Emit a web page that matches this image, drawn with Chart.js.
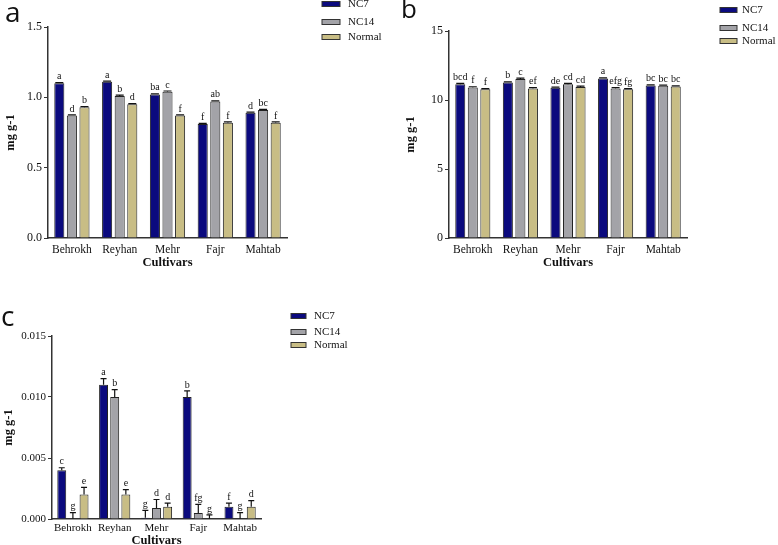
<!DOCTYPE html>
<html>
<head>
<meta charset="utf-8">
<script src="https://cdn.jsdelivr.net/npm/chart.js@4"></script>
<style>
  body { margin: 0; background: #fff; width: 778px; height: 545px; position: relative; overflow: hidden; }
  .panel { position: absolute; }
</style>
</head>
<body>
<div class="panel" style="left:0;top:0;width:390px;height:272px"><canvas id="chartA"></canvas></div>
<div class="panel" style="left:395px;top:0;width:383px;height:272px"><canvas id="chartB"></canvas></div>
<div class="panel" style="left:0;top:300px;width:390px;height:248px"><canvas id="chartC"></canvas></div>
<script>
const cultivars = ['Behrokh', 'Reyhan', 'Mehr', 'Fajr', 'Mahtab'];
const seriesNames = ['NC7', 'NC14', 'Normal'];
const colors = ['#0b0a7e', '#a3a3a8', '#c8bd85'];

// panel a
const aNC7 = [1.10, 1.11, 1.02, 0.81, 0.89];
const aNC14 = [0.87, 1.01, 1.04, 0.97, 0.91];
const aNormal = [0.93, 0.95, 0.87, 0.82, 0.82];
const aErrNC7 = [0.005, 0.005, 0.005, 0.005, 0.005];
const aErrNC14 = [0.005, 0.005, 0.005, 0.005, 0.005];
const aErrNormal = [0.005, 0.005, 0.005, 0.005, 0.005];
const aSigNC7 = ['a', 'a', 'ba', 'f', 'd'];
const aSigNC14 = ['d', 'b', 'c', 'ab', 'bc'];
const aSigNormal = ['b', 'd', 'f', 'f', 'f'];
const aTicks = [0, 0.5, 1.0, 1.5];

// panel b
const bNC7 = [11.15, 11.27, 10.88, 11.56, 11.05];
const bNC14 = [10.91, 11.53, 11.15, 10.84, 11.03];
const bNormal = [10.77, 10.84, 10.95, 10.77, 10.98];
const bErrNC7 = [0.05, 0.05, 0.05, 0.05, 0.05];
const bErrNC14 = [0.05, 0.05, 0.05, 0.05, 0.05];
const bErrNormal = [0.05, 0.05, 0.05, 0.05, 0.05];
const bSigNC7 = ['bcd', 'b', 'de', 'a', 'bc'];
const bSigNC14 = ['f', 'c', 'cd', 'efg', 'bc'];
const bSigNormal = ['f', 'ef', 'cd', 'fg', 'bc'];
const bTicks = [0, 5, 10, 15];

// panel c
const cNC7 = [0.0040, 0.0110, 0.0001, 0.0100, 0.0010];
const cNC14 = [0.00003, 0.0100, 0.0009, 0.0005, 0.00003];
const cNormal = [0.0020, 0.0020, 0.0010, 0.00003, 0.0010];
const cErrNC7 = [0.0002, 0.0005, 0.0006, 0.0005, 0.0003];
const cErrNC14 = [0.0005, 0.0006, 0.0007, 0.0007, 0.0005];
const cErrNormal = [0.0006, 0.0004, 0.0003, 0.0003, 0.0005];
const cSigNC7 = ['c', 'a', 'g', 'b', 'f'];
const cSigNC14 = ['g', 'b', 'd', 'fg', 'g'];
const cSigNormal = ['e', 'e', 'd', 'g', 'd'];
const cTicks = [0, 0.005, 0.010, 0.015];

const serif = '"Liberation Serif", "Times New Roman", serif';

// error bars, significance letters, panel tag and legend
const extras = {
  id: 'extras',
  afterDatasetsDraw(chart, args, opts) {
    const ctx = chart.ctx;
    const y = chart.scales.y;
    ctx.save();
    chart.data.datasets.forEach((ds, i) => {
      chart.getDatasetMeta(i).data.forEach((bar, j) => {
        const top = y.getPixelForValue(ds.data[j] + opts.errors[i][j]);
        ctx.strokeStyle = '#111';
        ctx.lineWidth = 1.2;
        ctx.beginPath();
        ctx.moveTo(bar.x, bar.y);
        ctx.lineTo(bar.x, top);
        ctx.moveTo(bar.x - opts.cap, top);
        ctx.lineTo(bar.x + opts.cap, top);
        ctx.stroke();
        ctx.fillStyle = '#111';
        ctx.font = '10px ' + serif;
        ctx.textAlign = 'center';
        ctx.textBaseline = 'bottom';
        ctx.fillText(opts.letters[i][j], bar.x, top - 1);
      });
    });
    ctx.fillStyle = '#111';
    ctx.font = opts.tagSize + 'px "Open Sans", sans-serif';
    ctx.textAlign = 'left';
    ctx.textBaseline = 'top';
    ctx.fillText(opts.tag, opts.tagX, opts.tagY);
    const lg = opts.legend;
    chart.data.datasets.forEach((ds, i) => {
      const cy = lg.y[i];
      ctx.fillStyle = ds.backgroundColor;
      ctx.fillRect(lg.x, cy - 2.5, lg.w, 5);
      ctx.strokeStyle = '#333';
      ctx.lineWidth = 1;
      ctx.strokeRect(lg.x, cy - 2.5, lg.w, 5);
      ctx.fillStyle = '#111';
      ctx.font = '11px ' + serif;
      ctx.textAlign = 'left';
      ctx.textBaseline = 'middle';
      ctx.fillText(ds.label, lg.x + lg.w + lg.gap, cy);
    });
    ctx.restore();
  }
};

function makeChart(id, series, errors, letters, ticks, decimals, box, extra) {
  return new Chart(document.getElementById(id), {
    type: 'bar',
    data: {
      labels: cultivars,
      datasets: series.map((d, i) => ({
        label: seriesNames[i],
        data: d,
        backgroundColor: colors[i],
        borderColor: '#222',
        borderWidth: 1,
        categoryPercentage: box.cat,
        barPercentage: 0.8
      }))
    },
    options: {
      responsive: true,
      maintainAspectRatio: false,
      animation: false,
      layout: { padding: { left: 0, top: box.top, right: box.right, bottom: 0 } },
      plugins: {
        legend: { display: false },
        tooltip: { enabled: false },
        extras: Object.assign({ errors: errors, letters: letters }, extra)
      },
      scales: {
        x: {
          grid: { display: false, drawTicks: false },
          border: { display: true, color: '#333', width: 1.5 },
          ticks: { color: '#111', font: { family: serif, size: box.catSize }, padding: box.labelPad, maxRotation: 0, minRotation: 0, autoSkip: false },
          title: { display: true, text: 'Cultivars', color: '#111', font: { family: serif, size: 12.5, weight: 'bold' }, padding: { top: 0, bottom: box.titleBottom } },
          afterFit(s) { s.height = box.xh; }
        },
        y: {
          min: ticks[0],
          max: ticks[ticks.length - 1],
          afterBuildTicks(s) { s.ticks = ticks.map(v => ({ value: v })); },
          grid: { drawOnChartArea: false, drawTicks: true, tickLength: 4, color: '#333', tickWidth: 1 },
          border: { display: true, color: '#333', width: 1.5 },
          ticks: { color: '#111', font: { family: serif, size: box.tickSize }, padding: 2, callback: v => Number(v).toFixed(decimals) },
          title: { display: true, text: 'mg g-1', color: '#111', font: { family: serif, size: 12.5, weight: 'bold' }, padding: { top: box.titlePad, bottom: 0 } },
          afterFit(s) { s.width = box.yw; }
        }
      }
    },
    plugins: [extras]
  });
}

makeChart('chartA',
  [aNC7, aNC14, aNormal],
  [aErrNC7, aErrNC14, aErrNormal],
  [aSigNC7, aSigNC14, aSigNormal],
  aTicks, 1,
  { top: 27, right: 103, xh: 34, yw: 48, cat: 0.79, tickSize: 12, catSize: 11.5, labelPad: 5, titleBottom: 2, titlePad: 3 },
  { cap: 4, tag: 'a', tagSize: 28, tagX: 5, tagY: 0, legend: { x: 322, w: 18, gap: 8, y: [4, 22, 37] } });

makeChart('chartB',
  [bNC7, bNC14, bNormal],
  [bErrNC7, bErrNC14, bErrNormal],
  [bSigNC7, bSigNC14, bSigNormal],
  bTicks, 0,
  { top: 31, right: 91, xh: 34, yw: 54, cat: 0.79, tickSize: 12, catSize: 11.5, labelPad: 5, titleBottom: 2, titlePad: 8 },
  { cap: 4, tag: 'b', tagSize: 26, tagX: 6, tagY: -2, legend: { x: 325, w: 17, gap: 5, y: [10, 28, 41] } });

makeChart('chartC',
  [cNC7, cNC14, cNormal],
  [cErrNC7, cErrNC14, cErrNormal],
  [cSigNC7, cSigNC14, cSigNormal],
  cTicks, 3,
  { top: 36, right: 129, xh: 29, yw: 52, cat: 0.8, tickSize: 11, catSize: 11, labelPad: 3, titleBottom: 0, titlePad: 1 },
  { cap: 3, tag: 'c', tagSize: 28, tagX: 1, tagY: 4, legend: { x: 291, w: 15, gap: 8, y: [16, 32, 45] } });
</script>
</body>
</html>
